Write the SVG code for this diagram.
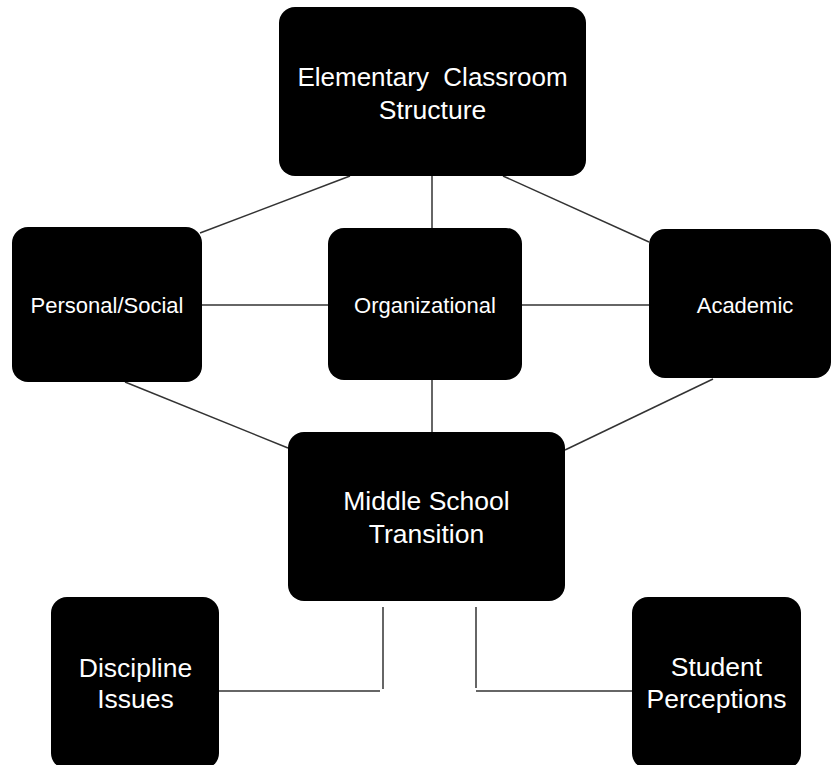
<svg xmlns="http://www.w3.org/2000/svg" width="832" height="765" viewBox="0 0 832 765">
<style>
.box{fill:#000;}
.lbl{fill:#fff;font-family:"Liberation Sans",Arial,sans-serif;text-anchor:middle;}
.big{font-size:26.5px;}
.small{font-size:22px;}
.conn line{stroke:#333;stroke-width:1.5;fill:none;}
</style>
<rect width="832" height="765" fill="#fff"/>
<g class="conn" id="connectors">
<line x1="350" y1="176" x2="200" y2="233"/>
<line x1="432" y1="176" x2="432" y2="228"/>
<line x1="503" y1="176" x2="649" y2="242"/>
<line x1="202" y1="305" x2="328" y2="305"/>
<line x1="522" y1="305" x2="649" y2="305"/>
<line x1="125" y1="382" x2="288" y2="448"/>
<line x1="432" y1="380" x2="432" y2="432"/>
<line x1="713" y1="379" x2="565" y2="450"/>
<line x1="383" y1="607" x2="383" y2="689"/>
<line x1="219" y1="691" x2="380" y2="691"/>
<line x1="476" y1="607" x2="476" y2="688"/>
<line x1="476" y1="691" x2="632" y2="691"/>
</g>
<g id="elementary">
<rect class="box" x="279" y="7" width="307" height="169" rx="16"/>
<text class="lbl" x="432.5" y="86" font-size="26px" xml:space="preserve">Elementary  Classroom</text>
<text class="lbl big" x="432.5" y="118.5">Structure</text>
</g>
<g id="personal">
<rect class="box" x="12" y="227" width="190" height="155" rx="16"/>
<text class="lbl small" x="107" y="313">Personal/Social</text>
</g>
<g id="organizational">
<rect class="box" x="328" y="228" width="194" height="152" rx="16"/>
<text class="lbl small" x="425" y="313">Organizational</text>
</g>
<g id="academic">
<rect class="box" x="649" y="229" width="182" height="149" rx="16"/>
<text class="lbl small" x="745" y="313">Academic</text>
</g>
<g id="middle">
<rect class="box" x="288" y="432" width="277" height="169" rx="16"/>
<text class="lbl big" x="426.5" y="510">Middle School</text>
<text class="lbl big" x="426.5" y="542.5">Transition</text>
</g>
<g id="discipline">
<rect class="box" x="51" y="597" width="168" height="172" rx="16"/>
<text class="lbl big" x="135.5" y="676.5">Discipline</text>
<text class="lbl big" x="135.5" y="708">Issues</text>
</g>
<g id="student">
<rect class="box" x="632" y="597" width="169" height="172" rx="16"/>
<text class="lbl big" x="716.5" y="676">Student</text>
<text class="lbl big" x="716.5" y="707.5">Perceptions</text>
</g>
</svg>
